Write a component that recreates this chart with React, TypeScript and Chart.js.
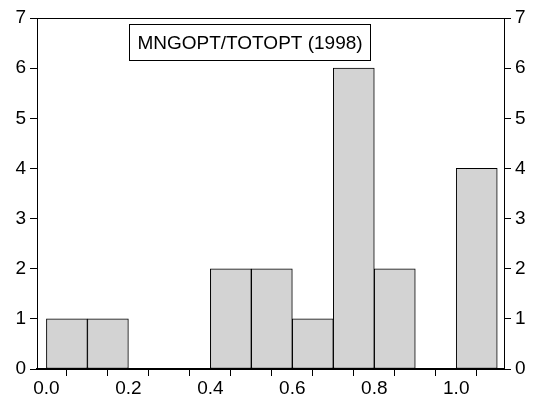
import React, { useEffect, useRef } from "react";
import { Chart, registerables } from "chart.js";

Chart.register(...registerables);

// ---- data ----
const binStarts = [0.0, 0.1, 0.2, 0.3, 0.4, 0.5, 0.6, 0.7, 0.8, 0.9, 1.0];
const binWidth = 0.1;
const counts = [1, 1, 0, 0, 2, 2, 1, 6, 2, 0, 4];
const xTickValues = [0.0, 0.1, 0.2, 0.3, 0.4, 0.5, 0.6, 0.7, 0.8, 0.9, 1.0, 1.1];
const xTickLabels = ["0.0", "", "0.2", "", "0.4", "", "0.6", "", "0.8", "", "1.0", ""];
const yTickValues = [0, 1, 2, 3, 4, 5, 6, 7];
const titleText = "MNGOPT/TOTOPT (1998)";

const FONT = "'Liberation Sans', Arial, Helvetica, sans-serif";

const framePlugin = {
  id: "frameAndTitle",
  afterDraw(chart: any) {
    const { ctx, chartArea } = chart;
    const { left, right, top, bottom } = chartArea;
    ctx.save();
    ctx.strokeStyle = "#000";
    ctx.lineWidth = 1;
    ctx.beginPath();
    ctx.moveTo(left, top + 0.5);
    ctx.lineTo(right, top + 0.5);
    ctx.stroke();
    // title box
    const bx = left + 92.5;
    const by = 24.5;
    const bw = 241;
    const bh = 36;
    ctx.fillStyle = "#fff";
    ctx.fillRect(bx, by, bw, bh);
    ctx.strokeRect(bx, by, bw, bh);
    ctx.fillStyle = "#000";
    ctx.font = `19px ${FONT}`;
    ctx.textAlign = "center";
    ctx.textBaseline = "middle";
    ctx.fillText(titleText, bx + bw / 2, by + bh / 2 + 1);
    ctx.restore();
  },
};

export default function App() {
  const ref = useRef<HTMLCanvasElement | null>(null);

  useEffect(() => {
    if (!ref.current) return;
    const tickFont = { family: FONT, size: 19 };
    const yAxisCommon = (width: number, position: string) => ({
      type: "linear" as const,
      position,
      min: yTickValues[0],
      max: yTickValues[yTickValues.length - 1],
      afterBuildTicks: (s: any) => {
        s.ticks = yTickValues.map((v) => ({ value: v }));
      },
      afterFit: (s: any) => {
        s.width = width;
      },
      ticks: { color: "#000", font: tickFont, padding: 4 },
      grid: {
        display: true,
        drawOnChartArea: false,
        drawTicks: true,
        tickLength: 7,
        color: "#000",
        lineWidth: 1,
      },
      border: { display: true, color: "#000", width: 1 },
    });

    const chart = new Chart(ref.current, {
      type: "bar",
      data: {
        datasets: [
          {
            data: binStarts.map((s, i) => ({ x: s + binWidth / 2, y: counts[i] })),
            backgroundColor: "#d3d3d3",
            borderColor: "#000",
            borderWidth: 1,
            borderSkipped: false,
            barPercentage: 1,
            categoryPercentage: 1,
            yAxisID: "y",
          },
        ],
      },
      options: {
        responsive: false,
        animation: false,
        devicePixelRatio: 1,
        layout: { padding: { top: 18, left: 0, right: 0, bottom: 0 } },
        plugins: {
          legend: { display: false },
          tooltip: { enabled: false },
          title: { display: false },
        },
        scales: {
          x: {
            type: "linear",
            min: -0.023,
            max: 1.1165,
            offset: false,
            afterBuildTicks: (s: any) => {
              s.ticks = xTickValues.map((v) => ({ value: v }));
            },
            afterFit: (s: any) => {
              s.height = 40;
            },
            ticks: {
              color: "#000",
              font: tickFont,
              padding: 1,
              maxRotation: 0,
              autoSkip: false,
              callback: (_v: any, i: number) => xTickLabels[i],
            },
            grid: {
              display: true,
              drawOnChartArea: false,
              drawTicks: true,
              tickLength: 7,
              color: "#000",
              lineWidth: 1,
            },
            border: { display: true, color: "#000", width: 2 },
          },
          y: yAxisCommon(37, "left") as any,
          y2: yAxisCommon(30, "right") as any,
        },
      },
      plugins: [framePlugin],
    });
    return () => chart.destroy();
  }, []);

  return (
    <div style={{ position: "absolute", left: 0, top: 0, width: 534, height: 409, background: "#fff" }}>
      <canvas ref={ref} width={534} height={409} />
    </div>
  );
}
